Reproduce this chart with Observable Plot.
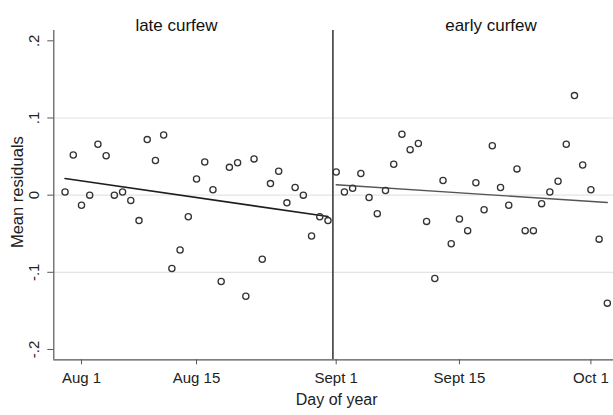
<!DOCTYPE html>
<html><head><meta charset="utf-8">
<script src="https://cdn.jsdelivr.net/npm/d3@7"></script>
<script src="https://cdn.jsdelivr.net/npm/@observablehq/plot@0.6"></script>
<style>body{margin:0;background:#fff;} svg{display:block}</style>
</head><body><div id="chart"></div>
<script>
// Day of year (Aug 1 = 213, Sept 1 = 244)
const lateDays = [211,212,213,214,215,216,217,218,219,220,221,222,223,224,225,226,227,228,229,230,231,232,233,234,235,236,237,238,239,240,241,242,243];
const lateResid = [0.004,0.052,-0.013,0.000,0.066,0.051,0.000,0.004,-0.007,-0.033,0.072,0.045,0.078,-0.095,-0.071,-0.028,0.021,0.043,0.007,-0.112,0.036,0.042,-0.131,0.047,-0.083,0.015,0.031,-0.010,0.010,0.000,-0.053,-0.028,-0.033];
const earlyDays = [244,245,246,247,248,249,250,251,252,253,254,255,256,257,258,259,260,261,262,263,264,265,266,267,268,269,270,271,272,273,274,275,276,277];
const earlyResid = [0.030,0.004,0.009,0.028,-0.003,-0.024,0.006,0.040,0.079,0.059,0.067,-0.034,-0.108,0.019,-0.063,-0.031,-0.046,0.016,-0.019,0.064,0.010,-0.013,0.034,-0.046,-0.046,-0.011,0.004,0.018,0.066,0.129,0.039,0.007,-0.057,-0.140];
// fitted lines (endpoints)
const lateFitDays = [211, 243];
const lateFitVals = [0.0216, -0.0277];
const earlyFitDays = [244, 277];
const earlyFitVals = [0.0135, -0.0095];
const cutoffDay = [243.6];
const xTickValues = [213, 227, 244, 259, 275];
const xTickLabels = ["Aug 1", "Aug 15", "Sept 1", "Sept 15", "Oct 1"];
const yTickValues = [-0.2, -0.1, 0, 0.1, 0.2];
const yTickLabels = ["-.2", "-.1", "0", ".1", ".2"];
const gridValues = [-0.1, 0, 0.1];
const panelTitles = ["late curfew", "early curfew"];

const late = lateDays.map((d, i) => ({day: d, resid: lateResid[i]}));
const early = earlyDays.map((d, i) => ({day: d, resid: earlyResid[i]}));
const lateFit = lateFitDays.map((d, i) => ({day: d, v: lateFitVals[i]}));
const earlyFit = earlyFitDays.map((d, i) => ({day: d, v: earlyFitVals[i]}));

const xDomain = [209.63, 277.75];
const yDomain = [-0.2134, 0.2134];
const titleDays = [224.56, 262.84];

const chart = Plot.plot({
  width: 613,
  height: 415,
  marginLeft: 53.3,
  marginRight: 0,
  marginTop: 30,
  marginBottom: 55.7,
  style: {fontFamily: "'Liberation Sans', Arial, sans-serif", color: "#222", background: "#fff"},
  x: {domain: xDomain},
  y: {domain: yDomain},
  marks: [
    Plot.ruleY(gridValues, {stroke: "#e4e4e4", strokeWidth: 1.2}),
    Plot.ruleX(cutoffDay, {stroke: "#3c3c3c", strokeWidth: 1.6}),
    Plot.ruleX([xDomain[0]], {stroke: "#555", strokeWidth: 1.2}),
    Plot.ruleY([yDomain[0]], {stroke: "#555", strokeWidth: 1.2}),
    Plot.axisY(yTickValues, {tickSize: 6, tickFormat: () => "", label: null, stroke: "#555"}),
    Plot.text(yTickValues, {y: d => d, frameAnchor: "left", dx: -20, rotate: -90, textAnchor: "middle", text: d => yTickLabels[yTickValues.indexOf(d)], fontSize: 15, fill: "#222"}),
    Plot.axisX(xTickValues, {tickSize: 5, tickPadding: 8, tickFormat: d => xTickLabels[xTickValues.indexOf(d)], label: null, fontSize: 15, stroke: "#555"}),
    Plot.text(["Day of year"], {frameAnchor: "bottom", dy: 45, dx: 3, fontSize: 16, fill: "#222"}),
    Plot.text(["Mean residuals"], {frameAnchor: "left", dx: -36, dy: -3, rotate: -90, textAnchor: "middle", fontSize: 16.5, fill: "#222"}),
    Plot.text(panelTitles, {x: (d, i) => titleDays[i], frameAnchor: "top", dy: -12, fontSize: 17, fill: "#111"}),
    Plot.line(lateFit, {x: "day", y: "v", stroke: "#1e1e1e", strokeWidth: 1.6}),
    Plot.line(earlyFit, {x: "day", y: "v", stroke: "#555", strokeWidth: 1.3}),
    Plot.dot(late, {x: "day", y: "resid", r: 3.1, stroke: "#333", strokeWidth: 1.3, fill: "none"}),
    Plot.dot(early, {x: "day", y: "resid", r: 3.1, stroke: "#333", strokeWidth: 1.3, fill: "none"})
  ]
});
document.getElementById("chart").append(chart);
</script></body></html>
